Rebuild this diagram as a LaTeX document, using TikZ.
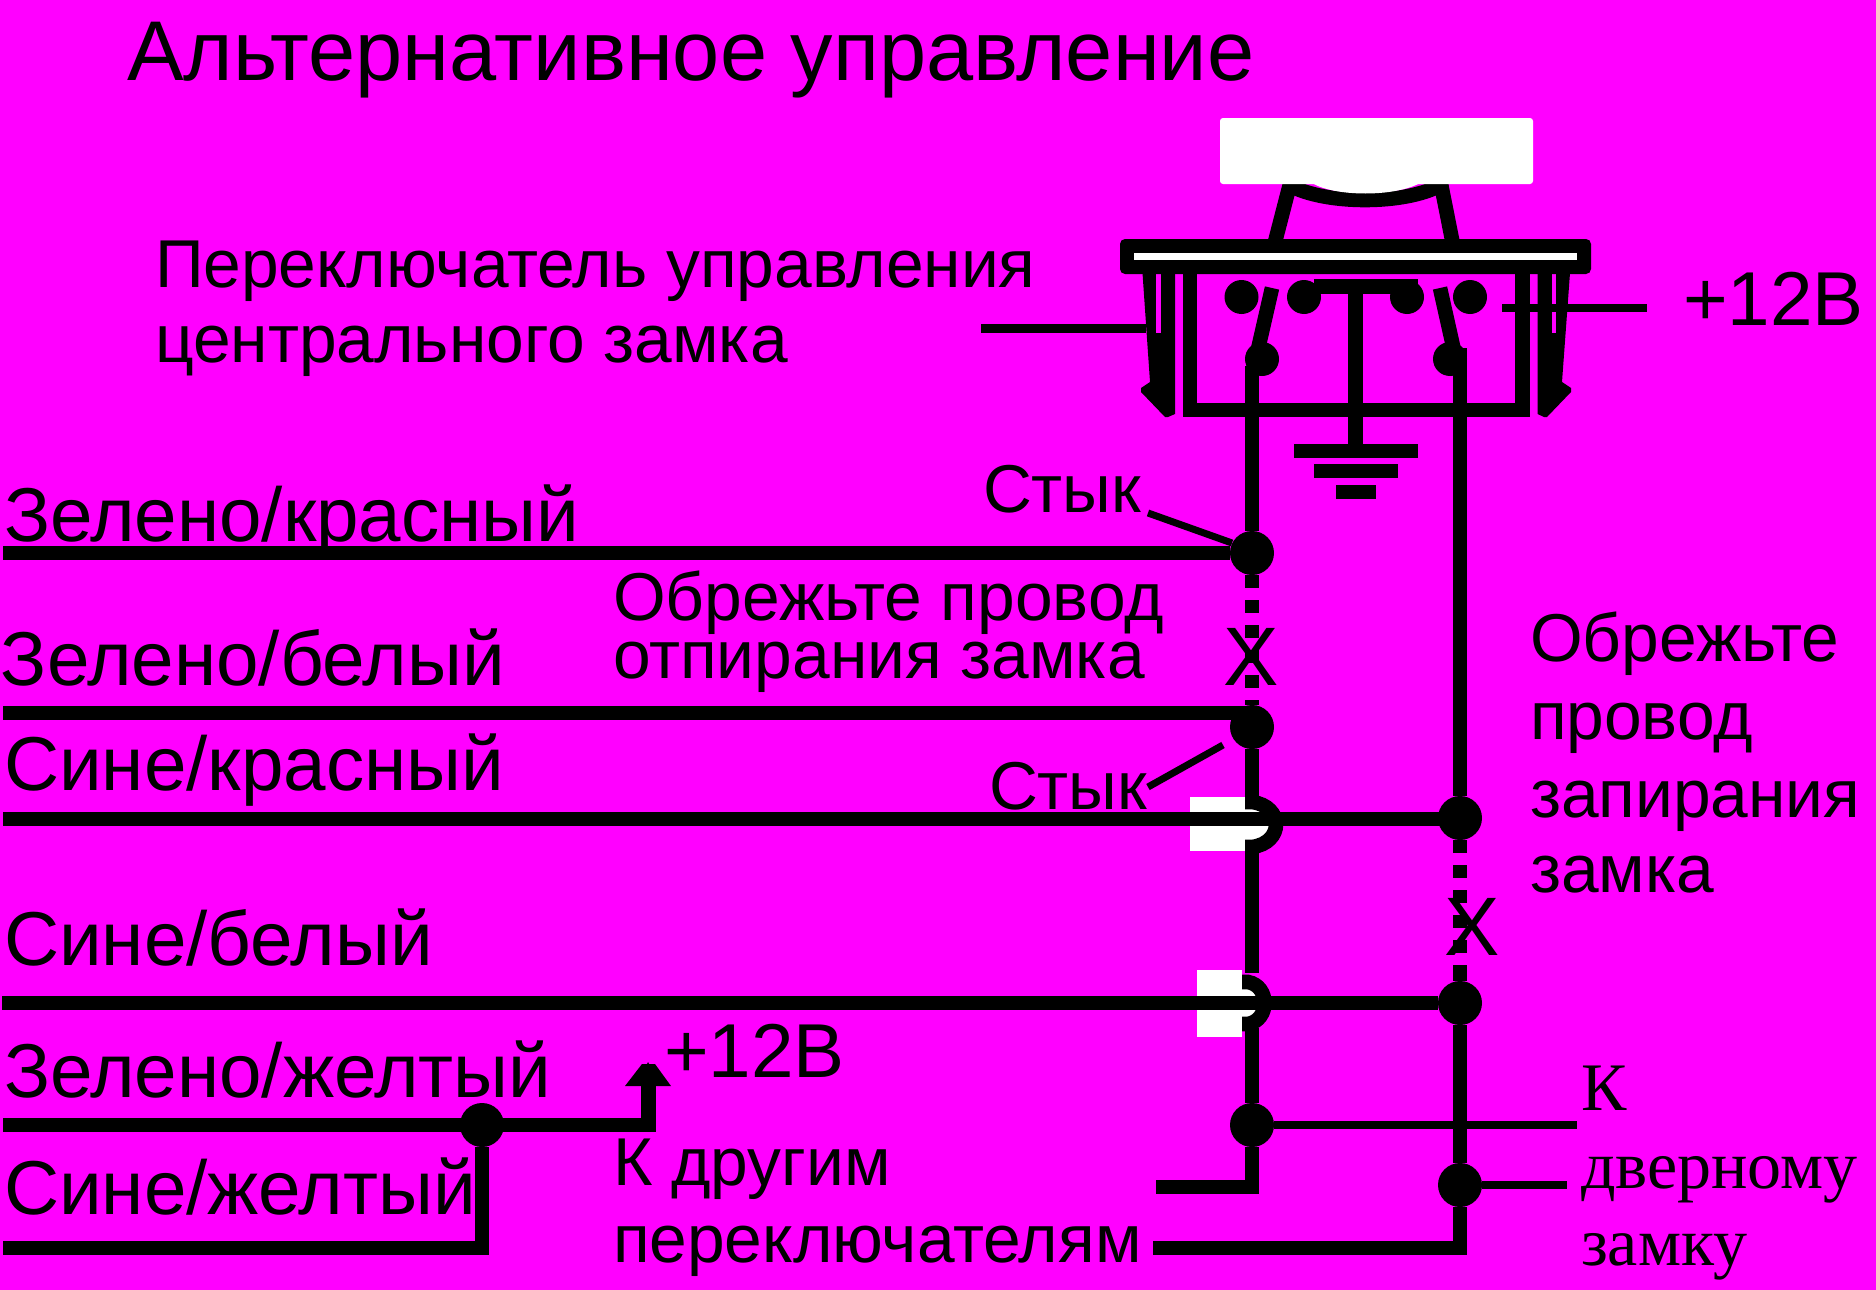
\documentclass[tikz,border=0pt]{standalone}
\usepackage{fontspec}
\setmainfont{Liberation Sans}
\newfontfamily\serifcyr{Liberation Serif}
\newcommand{\fsz}[1]{\fontsize{#1}{#1}\selectfont}
\definecolor{bgmag}{HTML}{FF00FF}
\tikzset{
  x=0.5pt,y=-0.5pt,
  lbl/.style={anchor=base west,inner sep=0pt,outer sep=0pt,text=black,font=\fsz{38.2}},
  lblb/.style={anchor=base west,inner sep=0pt,outer sep=0pt,text=black,font=\fsz{33.85}},
  lbls/.style={anchor=base west,inner sep=0pt,outer sep=0pt,text=black,font=\serifcyr\fsz{34}},
  wire/.style={draw=black,line width=7.3pt},
  thin wire/.style={draw=black,line width=4.3pt},
  leader/.style={draw=black,line width=3.5pt},
  cutwire/.style={draw=black,line width=7.3pt,dash pattern=on 6.25pt off 6.25pt},
  junction/.style={circle,fill=black,inner sep=0pt,minimum size=22pt},
  contact/.style={circle,fill=black,inner sep=0pt,minimum size=17pt},
}
\begin{document}
\begin{tikzpicture}
\useasboundingbox (0,0) rectangle (1876,1290);
\fill[bgmag] (0,0) rectangle (1876,1290);

% switch rocker
\draw[wire] (1290,184) -- (1275,242);
\draw[wire] (1441,184) -- (1452.5,242);
\draw[wire] (1289,185) .. controls (1325,205) and (1405,205) .. (1441,185);
\fill[white,rounded corners=1.5pt] (1220,118) rectangle (1533,184);
\fill[white] (1312,183) .. controls (1335,197) and (1395,197) .. (1420,183) -- cycle;

% clips
\fill[black] (1142.5,273) -- (1175,273) -- (1175,414) -- (1168,417) -- (1165,417) -- (1141,392) -- (1141,388) -- (1150,382) -- cycle;
\fill[bgmag] (1156,273) rectangle (1161,333);
\fill[black] (1570,273) -- (1537.5,273) -- (1537.5,414) -- (1544,417) -- (1547,417) -- (1571,392) -- (1571,388) -- (1562,382) -- cycle;
\fill[bgmag] (1551.5,273) rectangle (1556,333);

% top bar
\fill[black,rounded corners=2.5pt] (1120,239) rectangle (1591,274);
\fill[white] (1134,253) rectangle (1577,260);

% box
\draw[wire] (1190,273) -- (1190,410) -- (1522.5,410) -- (1522.5,273);

% contacts
\node[contact] (c1) at (1241.5,297) {};
\node[contact] (c2) at (1304,297) {};
\node[contact] (c3) at (1407,297) {};
\node[contact] (c4) at (1470,297) {};
\node[contact] (c5) at (1262,359) {};
\node[contact] (c6) at (1450,359) {};

% blades and centre tee
\coordinate (b1) at (1272,288);
\coordinate (b2) at (1440,288);
\draw[wire] (b1) -- (1256,358);
\draw[wire] (b2) -- (1455,355);
\coordinate (t1) at (1314,286.5);
\coordinate (t2) at (1417.5,286.5);
\draw[wire] (t1) -- (t2);
\coordinate (tm) at (1355.5,286.5);
\coordinate (g1) at (1355.5,450);
\draw[wire] (tm) -- (g1);

% ground
\fill[black] (1294,444) rectangle (1417.5,458);
\fill[black] (1314,464) rectangle (1398,478);
\fill[black] (1336,485) rectangle (1376,499);

% short leads
\coordinate (pl) at (981,328.5);
\coordinate (pr) at (1146,328.5);
\draw[thin wire] (pl) -- (pr);
\coordinate (vl) at (1502,308);
\coordinate (vr) at (1647,308);
\draw[thin wire] (vl) -- (vr);

% junctions
\node[junction] (J1) at (1252,553) {};
\node[junction] (J2) at (1252,727) {};
\node[junction] (J3) at (1460,818) {};
\node[junction] (J4) at (1460,1003) {};
\node[junction] (J5) at (1252,1125) {};
\node[junction] (J6) at (1460,1185) {};
\node[junction] (J7) at (482,1125) {};

% white patches and hops
\fill[white] (1190,797) rectangle (1245,851);
\fill[white] (1245,802) -- (1252,802) .. controls (1282,806) and (1282,843) .. (1252,847) -- (1245,847) -- cycle;
\draw[wire] (1245,802) -- (1252,802) .. controls (1284,806) and (1284,843) .. (1252,847) -- (1245,847);
\fill[white] (1197,970) rectangle (1242,1037);
\fill[white] (1242,982) -- (1248,982) .. controls (1268,986) and (1268,1020) .. (1248,1024) -- (1242,1024) -- cycle;
\draw[wire] (1242,982) -- (1248,982) .. controls (1270,986) and (1270,1020) .. (1248,1024) -- (1242,1024);

% left vertical wire
\coordinate (vt) at (1252,366);
\draw[wire] (vt) -- (J1);
\draw[cutwire] (J1) -- (J2);
\coordinate (h1) at (1252,797);
\coordinate (h2) at (1252,850);
\coordinate (h3) at (1252,973);
\coordinate (h4) at (1252,1028);
\draw[wire] (J2) -- (h1);
\draw[wire] (h2) -- (h3);
\draw[wire] (h4) -- (J5);
\coordinate (lb) at (1252,1187);
\coordinate (lbe) at (1156,1187);
\draw[wire] (J5) -- (lb) -- (lbe);

% right vertical wire
\coordinate (rt) at (1460,348);
\draw[wire] (rt) -- (J3);
\coordinate (rd) at (1460,968);
\draw[cutwire] (J3) -- (rd);
\draw[wire] (rd) -- (J4);
\draw[wire] (J4) -- (J6);
\coordinate (rb) at (1460,1248);
\coordinate (rbe) at (1153,1248);
\draw[wire] (J6) -- (rb) -- (rbe);

% horizontal wires
\coordinate (w1) at (3,553);
\draw[wire] (w1) -- (J1);
\coordinate (w2) at (3,713);
\coordinate (w2e) at (1252,713);
\draw[wire] (w2) -- (w2e);
\coordinate (w3) at (3,819);
\coordinate (w3e) at (1460,819);
\draw[wire] (w3) -- (w3e);
\coordinate (w4) at (2,1003);
\draw[wire] (w4) -- (J4);
\coordinate (w5) at (3,1125);
\coordinate (w5c) at (648.5,1125);
\coordinate (w5t) at (648.5,1075);
\draw[wire] (w5) -- (w5c) -- (w5t);
\fill[black] (625,1086) -- (642,1064) -- (647,1064) -- (648,1062) -- (649,1064) -- (655,1064) -- (671,1086) -- cycle;
\coordinate (w6) at (3,1248);
\coordinate (w6c) at (482,1248);
\draw[wire] (w6) -- (w6c) -- (J7);

% door lock leads
\coordinate (d1) at (1577,1125);
\draw[thin wire] (J5) -- (d1);
\coordinate (d2) at (1567,1185);
\draw[thin wire] (J6) -- (d2);

% leaders
\coordinate (s1) at (1148,513);
\coordinate (s1e) at (1232,543);
\draw[leader] (s1) -- (s1e);
\coordinate (s2) at (1223,745);
\coordinate (s2e) at (1148,787);
\draw[leader] (s2) -- (s2e);

% labels
\node[lbl,font=\fsz{42.4}] (title) at (127,80) {Альтернативное управление};
\node[lblb] (p1) at (155,287) {Переключатель управления};
\node[lblb] (p2) at (155,362) {центрального замка};
\node[lbl] (v1) at (1683,325) {+12В};
\node[lbl] (g1t) at (4,541) {Зелено/красный};
\node[lblb] (st1) at (983,512) {Стык};
\node[lblb] (c1t) at (613,620) {Обрежьте провод};
\node[lblb] (c2t) at (613,678) {отпирания замка};
\node[lbl] (g2t) at (1,685) {Зелено/белый};
\node[lbl] (b1t) at (4,790) {Сине/красный};
\node[lblb] (st2) at (989,809) {Стык};
\node[lblb] (r1t) at (1530,661) {Обрежьте};
\node[lblb] (r2t) at (1530,739) {провод};
\node[lblb] (r3t) at (1530,817) {запирания};
\node[lblb] (r4t) at (1530,892) {замка};
\node[lbl] (b2t) at (4,965) {Сине/белый};
\node[lbl] (g3t) at (4,1097) {Зелено/желтый};
\node[lbl] (v2) at (664,1077) {+12В};
\node[lbl] (b3t) at (4,1214) {Сине/желтый};
\node[lblb] (k1) at (613,1185) {К другим};
\node[lblb] (k2) at (613,1262) {переключателям};
\node[lbls] (q1) at (1581,1110) {К};
\node[lbls] (q2) at (1581,1188) {дверному};
\node[lbls] (q3) at (1581,1265) {замку};
\node[lbl,font=\fsz{41.5},anchor=base] (x1) at (1251,685) {Х};
\node[lbl,font=\fsz{41.5},anchor=base] (x2) at (1472,955) {Х};
\end{tikzpicture}
\end{document}
